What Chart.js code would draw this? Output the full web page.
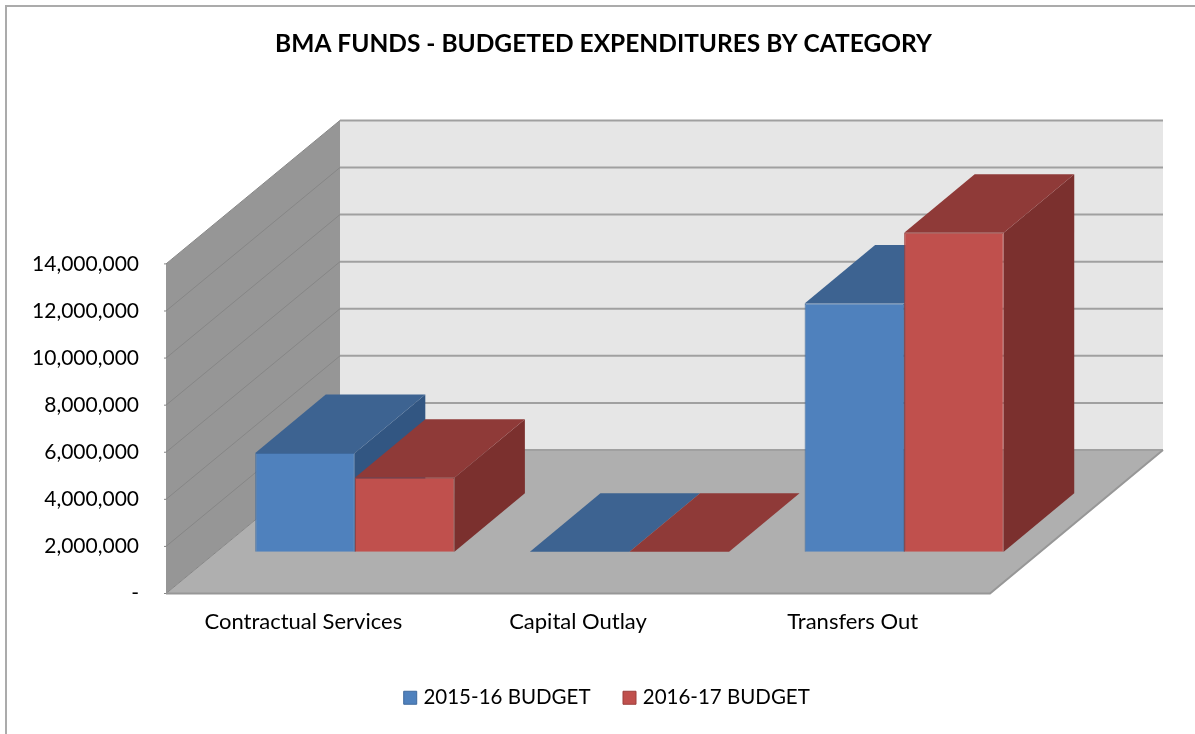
<!DOCTYPE html>
<html>
<head>
<meta charset="utf-8">
<title>BMA Funds</title>
<script src="https://cdn.jsdelivr.net/npm/chart.js@4"></script>
<style>
  html, body { margin: 0; padding: 0; background: #fff; }
  canvas { display: block; }
</style>
</head>
<body>
<canvas id="chart" width="1195" height="734"></canvas>
<script>
var categories = ["Contractual Services", "Capital Outlay", "Transfers Out"];
var budget1516 = [4190000, 0, 10540000];
var budget1617 = [3140000, 0, 13550000];
var seriesNames = ["2015-16 BUDGET", "2016-17 BUDGET"];
var titleText = "BMA FUNDS - BUDGETED EXPENDITURES BY CATEGORY";

// side and top face colours, same order as the datasets
var topColors = ["#3D6391", "#8F3A38"];
var sideColors = ["#325682", "#7B302E"];

var FONT = "Lato, Carlito, sans-serif";

// the 3d box: how far the back wall sits from the front plane,
// where the bars stand on the floor, and how deep a bar is
var WALL_DX = 174, WALL_DY = -143.5;
var BAR_DX = 51.5, BAR_DY = -41.8;
var DEPTH_DX = 70.5, DEPTH_DY = -58.5;

function poly(ctx, pts, color) {
  ctx.beginPath();
  ctx.moveTo(pts[0][0], pts[0][1]);
  for (var i = 1; i < pts.length; i++) ctx.lineTo(pts[i][0], pts[i][1]);
  ctx.closePath();
  ctx.fillStyle = color;
  ctx.fill();
}

var frame = {
  id: "frame",
  afterLayout: function (chart) {
    // legend sits a little right of the title in the original
    chart.legend.left += 5;
    chart.legend.right += 5;
    chart.legend.top += 2;
    chart.legend.bottom += 2;
  },
  beforeDraw: function (chart) {
    var ctx = chart.ctx;
    ctx.save();
    ctx.strokeStyle = "#ababab";
    ctx.lineWidth = 2;
    ctx.beginPath();
    ctx.moveTo(6, 734);
    ctx.lineTo(6, 6);
    ctx.lineTo(1195, 6);
    ctx.stroke();
    ctx.restore();
  }
};

var box3d = {
  id: "box3d",
  beforeDatasetsDraw: function (chart) {
    var ctx = chart.ctx, a = chart.chartArea, y = chart.scales.y;
    var l = a.left, r = a.right, t = a.top, b = a.bottom;

    ctx.save();
    // walls and floor
    poly(ctx, [[l, t], [l + WALL_DX, t + WALL_DY], [l + WALL_DX, b + WALL_DY], [l, b]], "#969696");
    poly(ctx, [[l + WALL_DX, t + WALL_DY], [r + WALL_DX - 1, t + WALL_DY], [r + WALL_DX - 1, b + WALL_DY], [l + WALL_DX, b + WALL_DY]], "#E6E6E6");
    poly(ctx, [[l, b], [l + WALL_DX, b + WALL_DY], [r + WALL_DX - 1, b + WALL_DY], [r, b]], "#AFAFAF");

    // grid lines run along the left wall then across the back
    y.ticks.forEach(function (tick) {
      var py = y.getPixelForValue(tick.value);
      ctx.lineWidth = 1;
      ctx.strokeStyle = "#868686";
      ctx.beginPath();
      ctx.moveTo(l - 2, py);
      ctx.lineTo(l, py);
      ctx.lineTo(l + WALL_DX, py + WALL_DY);
      ctx.stroke();
      ctx.lineWidth = 2;
      ctx.strokeStyle = "#a0a0a0";
      ctx.beginPath();
      ctx.moveTo(l + WALL_DX, py + WALL_DY);
      ctx.lineTo(r + WALL_DX - 1, py + WALL_DY);
      ctx.stroke();
    });

    // floor edges
    ctx.lineWidth = 2;
    ctx.strokeStyle = "#979797";
    ctx.beginPath();
    ctx.moveTo(l, b);
    ctx.lineTo(r, b);
    ctx.lineTo(r + WALL_DX - 1, b + WALL_DY);
    ctx.stroke();

    // the bars, blue first so the red ones sit in front of it.
    // Chart.js draws the last dataset first, so it is done by hand here
    ctx.translate(BAR_DX, BAR_DY);
    chart.data.datasets.forEach(function (ds, i) {
      var meta = chart.getDatasetMeta(i);
      meta.data.forEach(function (bar) {
        var x1 = bar.x - bar.width / 2, x2 = bar.x + bar.width / 2;
        var top = bar.y, base = bar.base;
        if (base - top > 0) {
          poly(ctx, [[x2, top], [x2 + DEPTH_DX, top + DEPTH_DY], [x2 + DEPTH_DX, base + DEPTH_DY], [x2, base]], sideColors[i]);
        }
        poly(ctx, [[x1, top], [x1 + DEPTH_DX, top + DEPTH_DY], [x2 + DEPTH_DX, top + DEPTH_DY], [x2, top]], topColors[i]);
      });
      meta.controller.draw();
    });
    ctx.restore();
  },
  beforeDatasetDraw: function () {
    return false;
  }
};

var myChart = new Chart("chart", {
  type: "bar",
  data: {
    labels: categories,
    datasets: [
      { label: seriesNames[0], data: budget1516, backgroundColor: "#4F81BD", borderColor: "#3f6a9e", borderWidth: 1 },
      { label: seriesNames[1], data: budget1617, backgroundColor: "#C0504D", borderColor: "#9c3f3c", borderWidth: 1 }
    ]
  },
  options: {
    responsive: false,
    animation: false,
    layout: { padding: { left: 12, right: 0, top: 0, bottom: 18 } },
    categoryPercentage: 0.725,
    barPercentage: 1,
    scales: {
      x: {
        grid: { display: false },
        border: { display: false },
        ticks: { color: "#000", font: { family: FONT, size: 22 }, padding: 7, maxRotation: 0 },
        afterFit: function (s) { s.height = 56; }
      },
      y: {
        min: 0,
        max: 14000000,
        grid: { display: false },
        border: { display: false },
        ticks: {
          stepSize: 2000000,
          color: "#000",
          padding: 19,
          font: { family: FONT, size: 21 },
          callback: function (v) { return v === 0 ? "-" : v.toLocaleString("en-US"); }
        },
        afterFit: function (s) { s.width = 154; }
      },
      // keeps the plot clear of the back wall overhang on the right
      spacer: {
        position: "right",
        grid: { display: false },
        border: { display: false },
        ticks: { display: false },
        afterFit: function (s) { s.width = 205; }
      }
    },
    plugins: {
      title: {
        display: true,
        text: titleText,
        color: "#000",
        font: { family: FONT, size: 24.5, weight: "bold" },
        padding: { top: 29, bottom: 205.5 }
      },
      legend: {
        position: "bottom",
        labels: {
          color: "#000",
          font: { family: FONT, size: 20.5 },
          usePointStyle: true,
          pointStyle: "rect",
          boxWidth: 6,
          boxHeight: 13,
          padding: 36
        }
      },
      tooltip: { enabled: false }
    }
  },
  plugins: [frame, box3d]
});
</script>
</body>
</html>
